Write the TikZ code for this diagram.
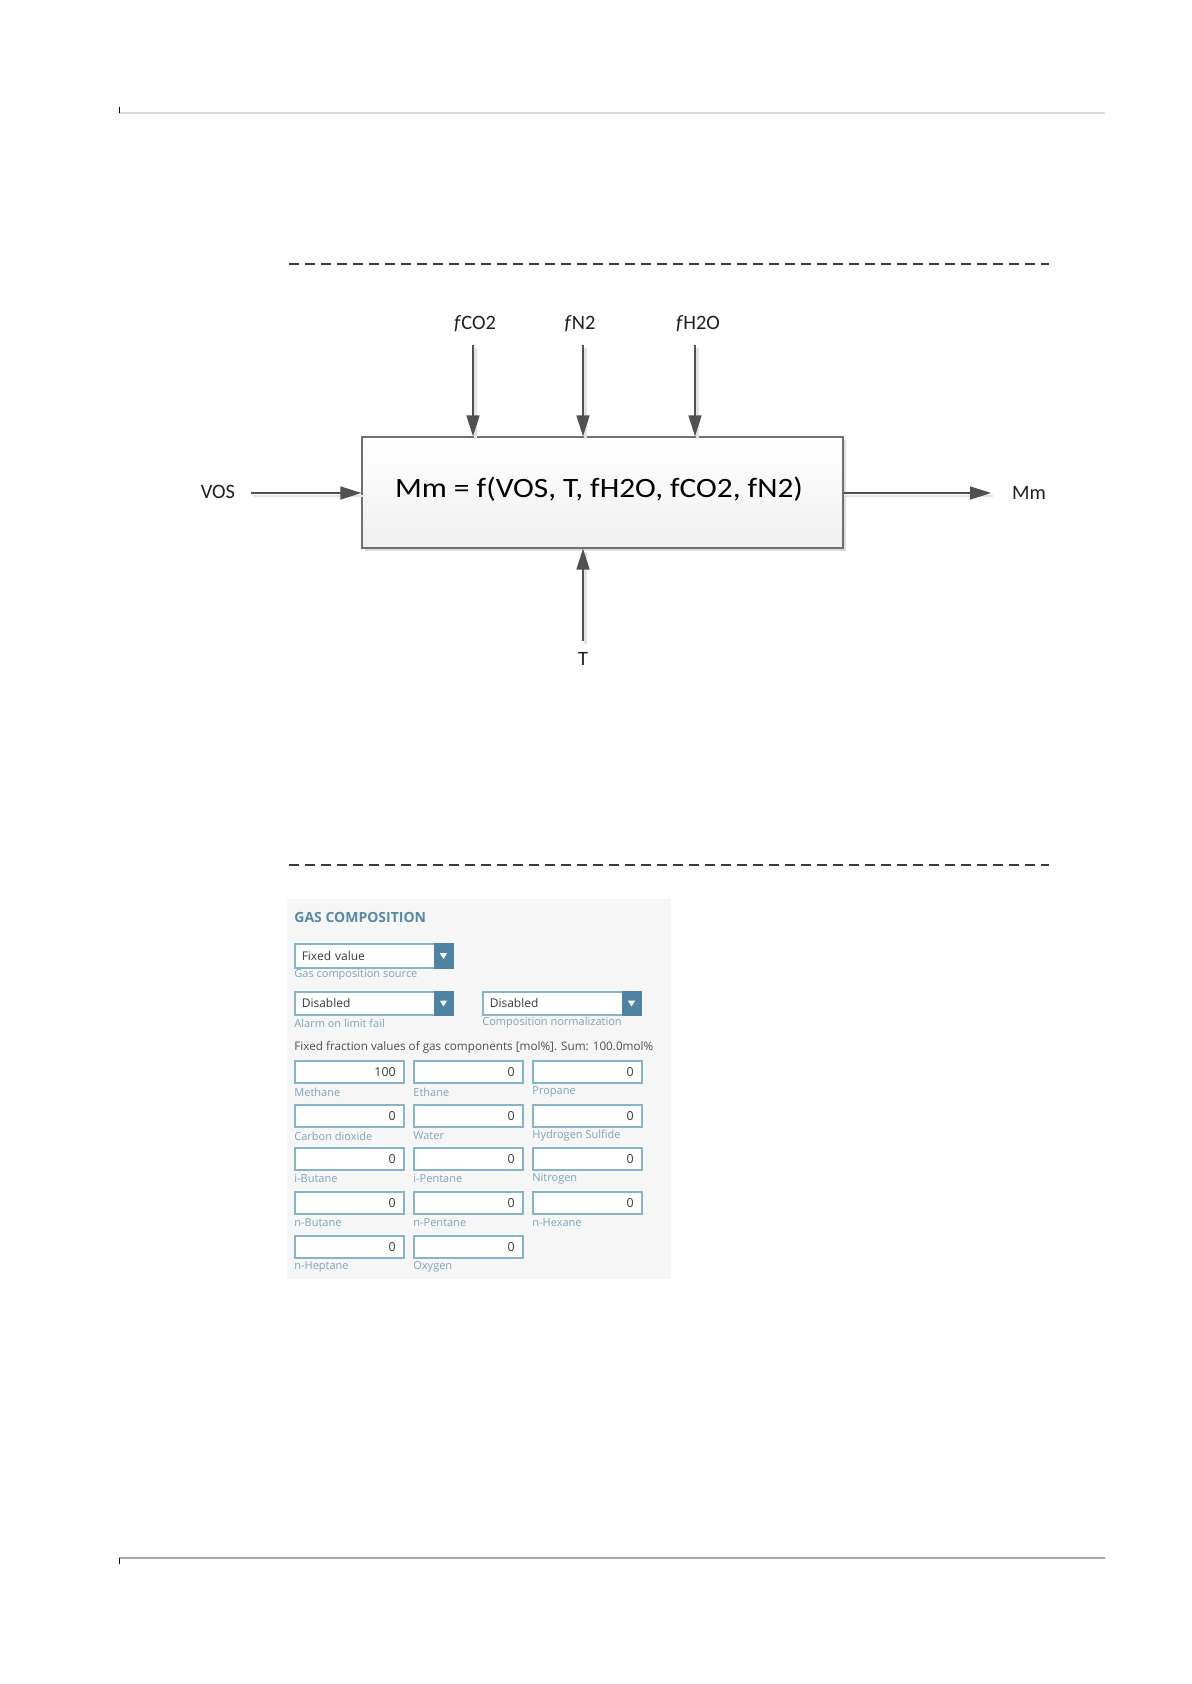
\documentclass[tikz,border=0pt]{standalone}
\usepackage{fontspec}
\setmainfont{Carlito}
\newfontfamily\formfont{Open Sans}
\usetikzlibrary{arrows.meta,shadows}
\definecolor{linec}{HTML}{505050}
\definecolor{headc}{HTML}{404040}
\definecolor{rulelight}{HTML}{D9D9D9}
\definecolor{rulegray}{HTML}{A8A8A8}
\definecolor{dashc}{HTML}{3A3A3A}
\definecolor{boxc}{HTML}{707070}
\definecolor{panelbg}{HTML}{F6F6F6}
\definecolor{titlec}{HTML}{5A88A6}
\definecolor{subc}{HTML}{7FA4B7}
\definecolor{fieldc}{HTML}{88B4C9}
\definecolor{btnc}{HTML}{4E83A2}
\definecolor{valc}{HTML}{3A3A3A}
\tikzset{
  lbl/.style={inner sep=0pt, font=\fontsize{10.2}{12}\selectfont, text=black!88},
  arr/.style={draw=linec, line width=0.7pt, -{Triangle[length=10.5pt,width=6.5pt]}, fill=headc},
  arrshadow/.style={draw=black!11, line width=1.1pt, transform canvas={xshift=1.2pt,yshift=-1.5pt}},
  dashline/.style={draw=dashc, line width=0.6pt, dash pattern=on 5pt off 3pt},
  fieldbox/.style={anchor=north west, draw=fieldc, line width=0.75pt, fill=white,
    minimum height=11pt, inner xsep=4pt, inner ysep=0pt, text width=46.5pt, align=right,
    font=\formfont\fontsize{6.2}{7}\selectfont, text=valc},
  ddbox/.style={anchor=north west, draw=fieldc, line width=0.75pt, fill=white,
    minimum height=12pt, inner xsep=3.5pt, inner ysep=0pt, text width=72pt, align=left,
    font=\formfont\fontsize{6}{7}\selectfont, text=valc},
  sublbl/.style={anchor=west, inner sep=0pt, font=\formfont\fontsize{5.5}{6.5}\selectfont, text=subc},
}
\begin{document}
\begin{tikzpicture}[x=0.5pt,y=-0.5pt]
\useasboundingbox (0,0) rectangle (1191,1684);
\fill[white] (0,0) rectangle (1191,1684);
% page rules
\draw[draw=rulelight, line width=1pt] (119,113) -- (1105,113);
\draw[draw=black, line width=0.5pt] (119.5,107) -- (119.5,113);
\draw[draw=rulegray, line width=0.7pt] (119,1558) -- (1105,1558);
\draw[draw=black, line width=0.5pt] (119.5,1558) -- (119.5,1564);
% dashed separators
\draw[dashline] (289,264) -- (1049,264);
\draw[dashline] (289,865) -- (1049,865);

% diagram
\node[draw=boxc, line width=0.6pt, top color=white, bottom color=black!6,
      minimum width=240.5pt, minimum height=55.5pt, inner sep=0pt,
      general shadow={fill=black!13, shadow xshift=1.6pt, shadow yshift=-1.6pt}]
      (box) at (602.5,492.5) {};
\node[inner sep=0pt] (eq) at (599,489)
      {\scalebox{1.12}[1]{\fontsize{14}{16}\selectfont Mm = f(VOS, T, fH2O, fCO2, fN2)}};

\node[lbl] (vos) at (218,492) {VOS};
\node[lbl] (mm) at (1029,493) {Mm};
\node[lbl] (co2) at (475,324) {\textit{f}CO2};
\node[lbl] (n2) at (580,324) {\textit{f}N2};
\node[lbl] (h2o) at (698,324) {\textit{f}H2O};
\node[lbl] (t) at (583,659) {T};

\coordinate (vosS) at (251,493);
\coordinate (mmE) at (991,493);
\coordinate (co2S) at (473,345);
\coordinate (n2S) at (583,345);
\coordinate (h2oS) at (695,345);
\coordinate (tS) at (583,641);

\draw[arrshadow] (vosS) -- (vosS -| box.west);
\draw[arrshadow] (mmE -| box.east) -- (mmE);
\draw[arrshadow] (co2S) -- (co2S |- box.north);
\draw[arrshadow] (n2S) -- (n2S |- box.north);
\draw[arrshadow] (h2oS) -- (h2oS |- box.north);
\draw[arrshadow] (tS) -- (tS |- box.south);

\draw[arr] (vosS) -- (vosS -| box.west);
\draw[arr] (mmE -| box.east) -- (mmE);
\draw[arr] (co2S) -- (co2S |- box.north);
\draw[arr] (n2S) -- (n2S |- box.north);
\draw[arr] (h2oS) -- (h2oS |- box.north);
\draw[arr] (tS) -- (tS |- box.south);

% gas composition panel
\fill[panelbg] (287,899) rectangle (671,1279);
\node[anchor=base west, inner sep=0pt, font=\formfont\bfseries\fontsize{7}{8}\selectfont, text=titlec]
  (title) at (294,922) {GAS COMPOSITION};

\node[ddbox, minimum width=79pt] (dd1) at (294,943) {Fixed value};
\node[ddbox, minimum width=79pt, minimum height=11.5pt] (dd2) at (294,991) {Disabled};
\node[ddbox, minimum width=79pt, minimum height=11.5pt] (dd3) at (482,991) {Disabled};
\foreach \d in {dd1,dd2,dd3}{
  \fill[btnc] ([xshift=-10pt]\d.north east) rectangle (\d.south east);
  \fill[white] ([xshift=-6.8pt,yshift=1.3pt]\d.east) -- ++(3.6pt,0pt) -- ++(-1.8pt,-2.9pt) -- cycle;
}
\node[sublbl] (dd1l) at (294,975) {Gas composition source};
\node[sublbl] (dd2l) at (294,1023) {Alarm on limit fail};
\node[sublbl] (dd3l) at (482,1023) {Composition normalization};

\node[anchor=west, inner sep=0pt, font=\formfont\fontsize{5.85}{6.5}\selectfont, text=valc!90]
  (fixedtxt) at (294,1047) {Fixed fraction values of gas components [mol\%]. Sum: 100.0mol\%};

\foreach \n/\x/\y/\v/\l in {1/294/1060/100/Methane, 2/413/1060/0/Ethane, 3/532/1060/0/Propane,
  4/294/1104/0/Carbon dioxide, 5/413/1104/0/Water, 6/532/1104/0/Hydrogen Sulfide,
  7/294/1147/0/i-Butane, 8/413/1147/0/i-Pentane, 9/532/1147/0/Nitrogen,
  10/294/1191/0/n-Butane, 11/413/1191/0/n-Pentane, 12/532/1191/0/n-Hexane,
  13/294/1235/0/n-Heptane, 14/413/1235/0/Oxygen}{
  \node[fieldbox] (fld\n) at (\x,\y) {\v};
  \node[sublbl] (lbl\n) at (\x,\y+32) {\l};
}
\end{tikzpicture}
\end{document}
